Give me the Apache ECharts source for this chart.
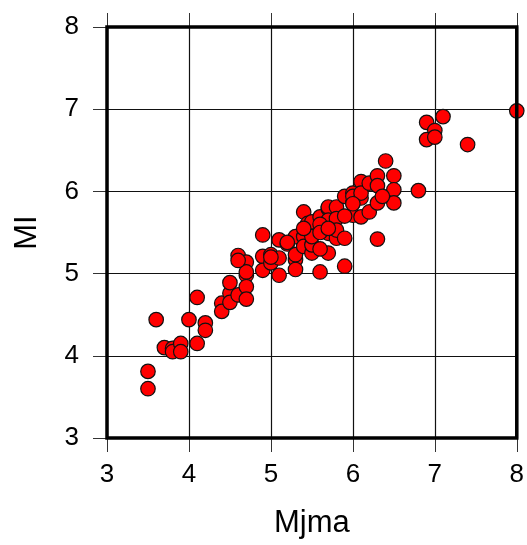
<!DOCTYPE html>
<html>
<head>
<meta charset="utf-8">
<script src="https://cdn.jsdelivr.net/npm/echarts@6/dist/echarts.min.js"></script>
<style>html,body{margin:0;padding:0;background:#fff}#c{width:527px;height:545px}</style>
</head>
<body>
<div id="c"></div>
<script>
var xTitle = 'Mjma';
var yTitle = 'MI';
var ticks = [3, 4, 5, 6, 7, 8];
var mjma = [3.5,3.5,3.6,3.7,3.8,3.8,3.9,3.9,4.0,4.1,4.1,4.2,4.2,4.4,4.4,4.5,4.5,4.5,4.6,4.6,
  4.7,4.7,4.7,4.7,4.7,4.9,4.9,4.9,5.0,5.0,5.1,5.1,5.1,5.2,5.3,5.3,5.3,5.3,5.4,5.4,
  5.4,5.45,5.5,5.5,5.5,5.5,5.6,5.6,5.7,5.7,5.7,5.7,5.7,5.8,5.8,5.8,5.8,5.9,5.9,5.9,
  6.0,6.0,6.0,6.0,6.1,6.1,6.1,6.1,6.2,6.2,6.3,6.3,6.3,6.3,6.4,6.5,6.5,6.5,6.8,6.9,
  7.1,7.0,6.9,7.0,7.4,8.0,5.6,5.2,5.5,5.6,5.9,6.0,5.7,6.36,5.0,5.6,4.6,5.4];
var ml = [3.81,3.60,4.44,4.10,4.09,4.05,4.15,4.05,4.44,4.71,4.15,4.40,4.31,4.64,4.54,4.76,4.89,4.65,4.74,5.22,
  5.14,4.98,4.84,4.69,5.02,5.47,5.21,5.04,5.23,5.13,5.41,5.19,4.98,5.36,5.17,5.05,5.45,5.23,5.45,5.33,
  5.75,5.61,5.51,5.25,5.63,5.35,5.02,5.69,5.49,5.25,5.79,5.81,5.65,5.81,5.67,5.43,5.53,5.43,5.09,5.94,
  5.98,5.86,5.71,5.94,6.12,5.92,5.69,5.98,5.75,6.10,6.19,6.07,5.86,5.42,6.37,6.19,6.02,5.86,6.01,6.84,
  6.91,6.74,6.63,6.66,6.57,6.98,5.60,5.38,5.45,5.50,5.70,5.85,5.55,5.94,5.20,5.30,5.16,5.55];

var pts = mjma.map(function (v, i) { return [v, ml[i]]; });
var font = 'Liberation Sans';
var chart = echarts.init(document.getElementById('c'), null, {renderer: 'canvas'});
var baseAxis = {
  type: 'value', min: ticks[0], max: ticks[ticks.length - 1], interval: 1
};
chart.setOption({
  animation: false,
  backgroundColor: '#fff',
  grid: {left: 107, top: 27, right: 7, bottom: 107, show: true, borderColor: '#000', borderWidth: 3.5, backgroundColor: 'transparent', z: 3},
  xAxis: [
    Object.assign({}, baseAxis, {
      position: 'bottom',
      name: xTitle, nameLocation: 'middle', nameGap: 70,
      nameTextStyle: {fontFamily: font, fontSize: 31, color: '#000'},
      axisLine: {show: false},
      axisTick: {show: true, inside: false, length: 14, lineStyle: {color: '#333', width: 1}},
      axisLabel: {show: true, margin: 24, fontFamily: font, fontSize: 26, color: '#000'},
      splitLine: {show: true, lineStyle: {color: '#111', width: 1.2}}
    }),
    Object.assign({}, baseAxis, {
      position: 'top',
      axisLine: {show: false},
      axisTick: {show: true, inside: false, length: 14, lineStyle: {color: '#333', width: 1}},
      axisLabel: {show: false},
      splitLine: {show: false}
    })
  ],
  yAxis: [
    Object.assign({}, baseAxis, {
      position: 'left',
      name: yTitle, nameLocation: 'middle', nameGap: 64,
      nameTextStyle: {fontFamily: font, fontSize: 31, color: '#000'},
      axisLine: {show: false},
      axisTick: {show: true, inside: false, length: 14, lineStyle: {color: '#333', width: 1}},
      axisLabel: {show: true, margin: 28, fontFamily: font, fontSize: 26, color: '#000'},
      splitLine: {show: true, lineStyle: {color: '#111', width: 1.2}}
    })
  ],
  series: [{
    type: 'scatter',
    xAxisIndex: 0, yAxisIndex: 0,
    data: pts,
    symbol: 'circle',
    symbolSize: 14.5,
    clip: false,
    itemStyle: {color: '#FF0000', borderColor: '#111', borderWidth: 1.2, opacity: 1},
    z: 2
  }]
});
</script>
</body>
</html>
